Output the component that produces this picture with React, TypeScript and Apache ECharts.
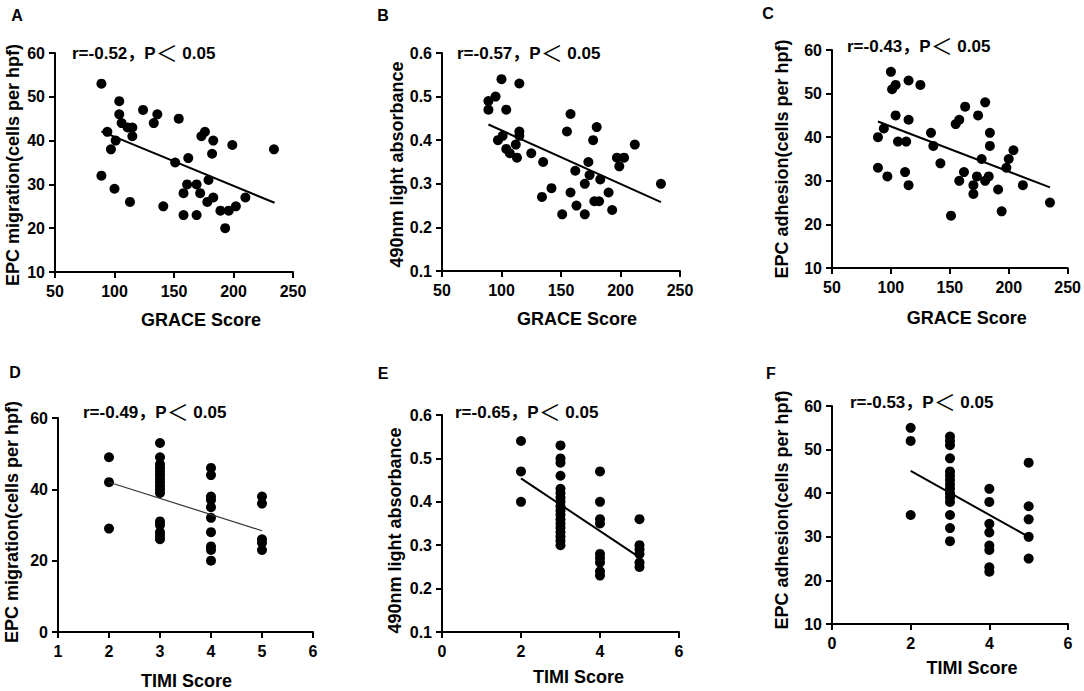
import React, { useEffect, useRef } from "react";
import * as echarts from "echarts";

const migrationGrace: number[][] = [
  [89, 53], [89, 32], [94, 42], [97, 38], [101, 40], [100, 29], [104, 49], [104, 46],
  [106, 44], [111, 43], [115, 43], [115, 41], [113, 26], [124, 47], [133, 44], [136, 46],
  [141, 25], [151, 35], [154, 45], [162, 36], [158, 28], [161, 30], [158, 23], [169, 30],
  [169, 23], [172, 28], [173, 41], [176, 42], [183, 40], [182, 37], [179, 31], [178, 26],
  [183, 27], [189, 24], [193, 20], [196, 24], [199, 39], [202, 25], [210, 27], [234, 38],
];
const absorbanceGrace: number[][] = [
  [89, 0.49], [89, 0.47], [95, 0.5], [100, 0.54], [104, 0.47], [97, 0.4], [101, 0.41],
  [104, 0.38], [107, 0.37], [112, 0.39], [113, 0.36], [115, 0.53], [115, 0.42], [115, 0.41],
  [125, 0.37], [135, 0.35], [134, 0.27], [142, 0.29], [151, 0.23], [155, 0.42], [158, 0.46],
  [158, 0.28], [162, 0.33], [163, 0.25], [170, 0.3], [170, 0.23], [173, 0.35], [174, 0.32],
  [177, 0.4], [180, 0.43], [178, 0.26], [182, 0.26], [183, 0.31], [190, 0.28], [193, 0.24],
  [197, 0.36], [199, 0.34], [203, 0.36], [212, 0.39], [234, 0.3],
];
const adhesionGrace: number[][] = [
  [89, 40], [89, 33], [94, 42], [97, 31], [100, 55], [101, 51], [104, 52], [104, 45],
  [106, 39], [113, 39], [112, 32], [115, 53], [115, 44], [115, 29], [125, 52], [134, 41],
  [136, 38], [142, 34], [151, 22], [155, 43], [158, 44], [158, 30], [162, 32], [163, 47],
  [170, 29], [170, 27], [173, 31], [174, 45], [177, 35], [180, 48], [180, 30], [183, 31],
  [184, 41], [184, 38], [191, 28], [194, 23], [198, 33], [200, 35], [204, 37], [212, 29],
  [235, 25],
];
const migrationTimi: number[][] = [
  [2, 49], [2, 42], [2, 29],
  [3, 53], [3, 49], [3, 47], [3, 46], [3, 45], [3, 44], [3, 43], [3, 42], [3, 41], [3, 40],
  [3, 39], [3, 31], [3, 30], [3, 28], [3, 27], [3, 26],
  [4, 46], [4, 44], [4, 38], [4, 37], [4, 35], [4, 32], [4, 28], [4, 24], [4, 23], [4, 20],
  [5, 38], [5, 36], [5, 26], [5, 25], [5, 23],
];
const absorbanceTimi: number[][] = [
  [2, 0.54], [2, 0.47], [2, 0.4],
  [3, 0.53], [3, 0.5], [3, 0.49], [3, 0.46], [3, 0.43], [3, 0.42], [3, 0.41], [3, 0.4],
  [3, 0.39], [3, 0.38], [3, 0.37], [3, 0.36], [3, 0.35], [3, 0.34], [3, 0.33], [3, 0.32],
  [3, 0.31], [3, 0.3],
  [4, 0.47], [4, 0.4], [4, 0.36], [4, 0.35], [4, 0.28], [4, 0.27], [4, 0.26], [4, 0.24], [4, 0.23],
  [5, 0.36], [5, 0.3], [5, 0.29], [5, 0.28], [5, 0.26], [5, 0.25],
];
const adhesionTimi: number[][] = [
  [2, 55], [2, 52], [2, 35],
  [3, 53], [3, 52], [3, 51], [3, 48], [3, 45], [3, 44], [3, 43], [3, 42], [3, 41], [3, 40],
  [3, 39], [3, 38], [3, 35], [3, 32], [3, 29],
  [4, 41], [4, 38], [4, 33], [4, 31], [4, 28], [4, 27], [4, 23], [4, 22],
  [5, 47], [5, 37], [5, 34], [5, 30], [5, 25],
];

// Regression line end points
const fitA: number[][] = [[89, 42.1], [234.5, 25.8]];
const fitB: number[][] = [[89, 0.436], [234, 0.258]];
const fitC: number[][] = [[89, 43.6], [235, 28.5]];
const fitD: number[][] = [[2, 42], [5, 28.4]];
const fitE: number[][] = [[2, 0.454], [5, 0.272]];
const fitF: number[][] = [[2, 45.1], [5, 30]];

const panelLetters = ["A", "B", "C", "D", "E", "F"];
const rValues = ["-0.52", "-0.57", "-0.43", "-0.49", "-0.65", "-0.53"];
const xTitles = ["GRACE Score", "GRACE Score", "GRACE Score", "TIMI Score", "TIMI Score", "TIMI Score"];
const yTitles = [
  "EPC migration(cells per hpf)",
  "490nm light absorbance",
  "EPC adhesion(cells per hpf)",
  "EPC migration(cells per hpf)",
  "490nm light absorbance",
  "EPC adhesion(cells per hpf)",
];
const xRanges = [[50, 250, 50], [50, 250, 50], [50, 250, 50], [1, 6, 1], [0, 6, 2], [0, 6, 2]];
const yRanges = [[10, 60, 10], [0.1, 0.6, 0.1], [10, 60, 10], [0, 60, 20], [0.1, 0.6, 0.1], [10, 60, 10]];

const FONT = "'Liberation Sans', Arial, 'Noto Sans CJK SC', sans-serif";

// layout
const grids = [
  { left: 55, top: 53, width: 238, height: 219 },
  { left: 442, top: 53, width: 238, height: 218 },
  { left: 832, top: 50, width: 236, height: 218 },
  { left: 58, top: 418, width: 255, height: 215 },
  { left: 442, top: 415, width: 237, height: 217 },
  { left: 832, top: 406, width: 236, height: 218 },
];
const xNameGap = [39, 39, 41, 40, 36, 35];
const xNameShift = [27, 16, 17, 1, 18, 22];
const yNameGap = [33, 36, 41, 37, 38, 41];
// [left, right] padding to nudge rotated y titles along the axis
const yNamePad = [[0, 5], [0, 5], [0, 0], [6, 0], [0, 14], [10, 0]];
const letterPos = [[17, 15], [383, 15], [768, 13], [15, 372], [383, 373], [771, 373]];
const notePos = [[72, 53], [457, 53], [847, 46], [83, 412], [455, 412], [850, 402]];

export default function App() {
  const ref = useRef<HTMLDivElement>(null);
  useEffect(() => {
    if (!ref.current) return;
    const chart = echarts.init(ref.current, null, { renderer: "svg" });
    const scatterData = [migrationGrace, absorbanceGrace, adhesionGrace, migrationTimi, absorbanceTimi, adhesionTimi];
    const fits = [fitA, fitB, fitC, fitD, fitE, fitF];
    const isDecimal = [false, true, false, false, true, false];

    const series: any[] = [];
    scatterData.forEach((d, i) => {
      series.push({
        type: "scatter",
        xAxisIndex: i,
        yAxisIndex: i,
        data: d,
        symbolSize: 10,
        itemStyle: { color: "#000", opacity: 1 },
        silent: true,
      });
      series.push({
        type: "line",
        xAxisIndex: i,
        yAxisIndex: i,
        data: fits[i],
        symbol: "none",
        lineStyle: { color: i === 3 ? "#333" : "#000", width: i === 3 ? 1.2 : 2 },
        silent: true,
      });
    });

    const option: any = {
      animation: false,
      grid: grids.map((g) => ({ ...g, containLabel: false })),
      xAxis: grids.map((_, i) => ({
        gridIndex: i,
        type: "value",
        min: xRanges[i][0],
        max: xRanges[i][1],
        interval: xRanges[i][2],
        splitLine: { show: false },
        axisLine: { show: true, onZero: false, lineStyle: { color: "#000", width: 2 } },
        axisTick: { show: true, length: 6, lineStyle: { color: "#000", width: 2 } },
        axisLabel: { color: "#000", fontSize: 16, fontWeight: "bold", fontFamily: FONT, margin: 11 },
        name: xTitles[i],
        nameLocation: "middle",
        nameGap: xNameGap[i],
        nameTextStyle: {
          color: "#000",
          fontSize: 18,
          fontWeight: "bold",
          fontFamily: FONT,
          padding: [0, 0, 0, xNameShift[i] * 2],
        },
      })),
      yAxis: grids.map((_, i) => ({
        gridIndex: i,
        type: "value",
        min: yRanges[i][0],
        max: yRanges[i][1],
        interval: yRanges[i][2],
        splitLine: { show: false },
        axisLine: { show: true, onZero: false, lineStyle: { color: "#000", width: 2 } },
        axisTick: { show: true, length: 6, lineStyle: { color: "#000", width: 2 } },
        axisLabel: {
          color: "#000",
          fontSize: 16,
          fontWeight: "bold",
          fontFamily: FONT,
          margin: 10,
          formatter: (v: number) => (isDecimal[i] ? v.toFixed(1) : String(Math.round(v))),
        },
        name: yTitles[i],
        nameLocation: "middle",
        nameGap: yNameGap[i],
        nameTextStyle: {
          color: "#000",
          fontSize: 18,
          fontWeight: "bold",
          fontFamily: FONT,
          padding: [0, yNamePad[i][1], 0, yNamePad[i][0]],
        },
      })),
      series,
      graphic: [
        ...panelLetters.map((t, i) => ({
          type: "text",
          x: letterPos[i][0],
          y: letterPos[i][1],
          style: {
            text: t,
            fill: "#000",
            font: `bold 16px ${FONT}`,
            align: "center",
            verticalAlign: "middle",
          },
        })),
        ...rValues.map((r, i) => ({
          type: "text",
          x: notePos[i][0],
          y: notePos[i][1],
          style: {
            text: `{a|r=${r}，P}{b|＜}{a| 0.05}`,
            align: "left",
            verticalAlign: "middle",
            rich: {
              a: { fontSize: 17, fontWeight: "bold", fontFamily: FONT, fill: "#000", color: "#000" },
              b: { fontSize: 22, fontWeight: "normal", fontFamily: FONT, fill: "#000", color: "#000" },
            },
          },
        })),
      ],
    };
    chart.setOption(option);
    return () => chart.dispose();
  }, []);
  return <div ref={ref} style={{ position: "absolute", left: 0, top: 0, width: 1084, height: 691, background: "#fff" }} />;
}
